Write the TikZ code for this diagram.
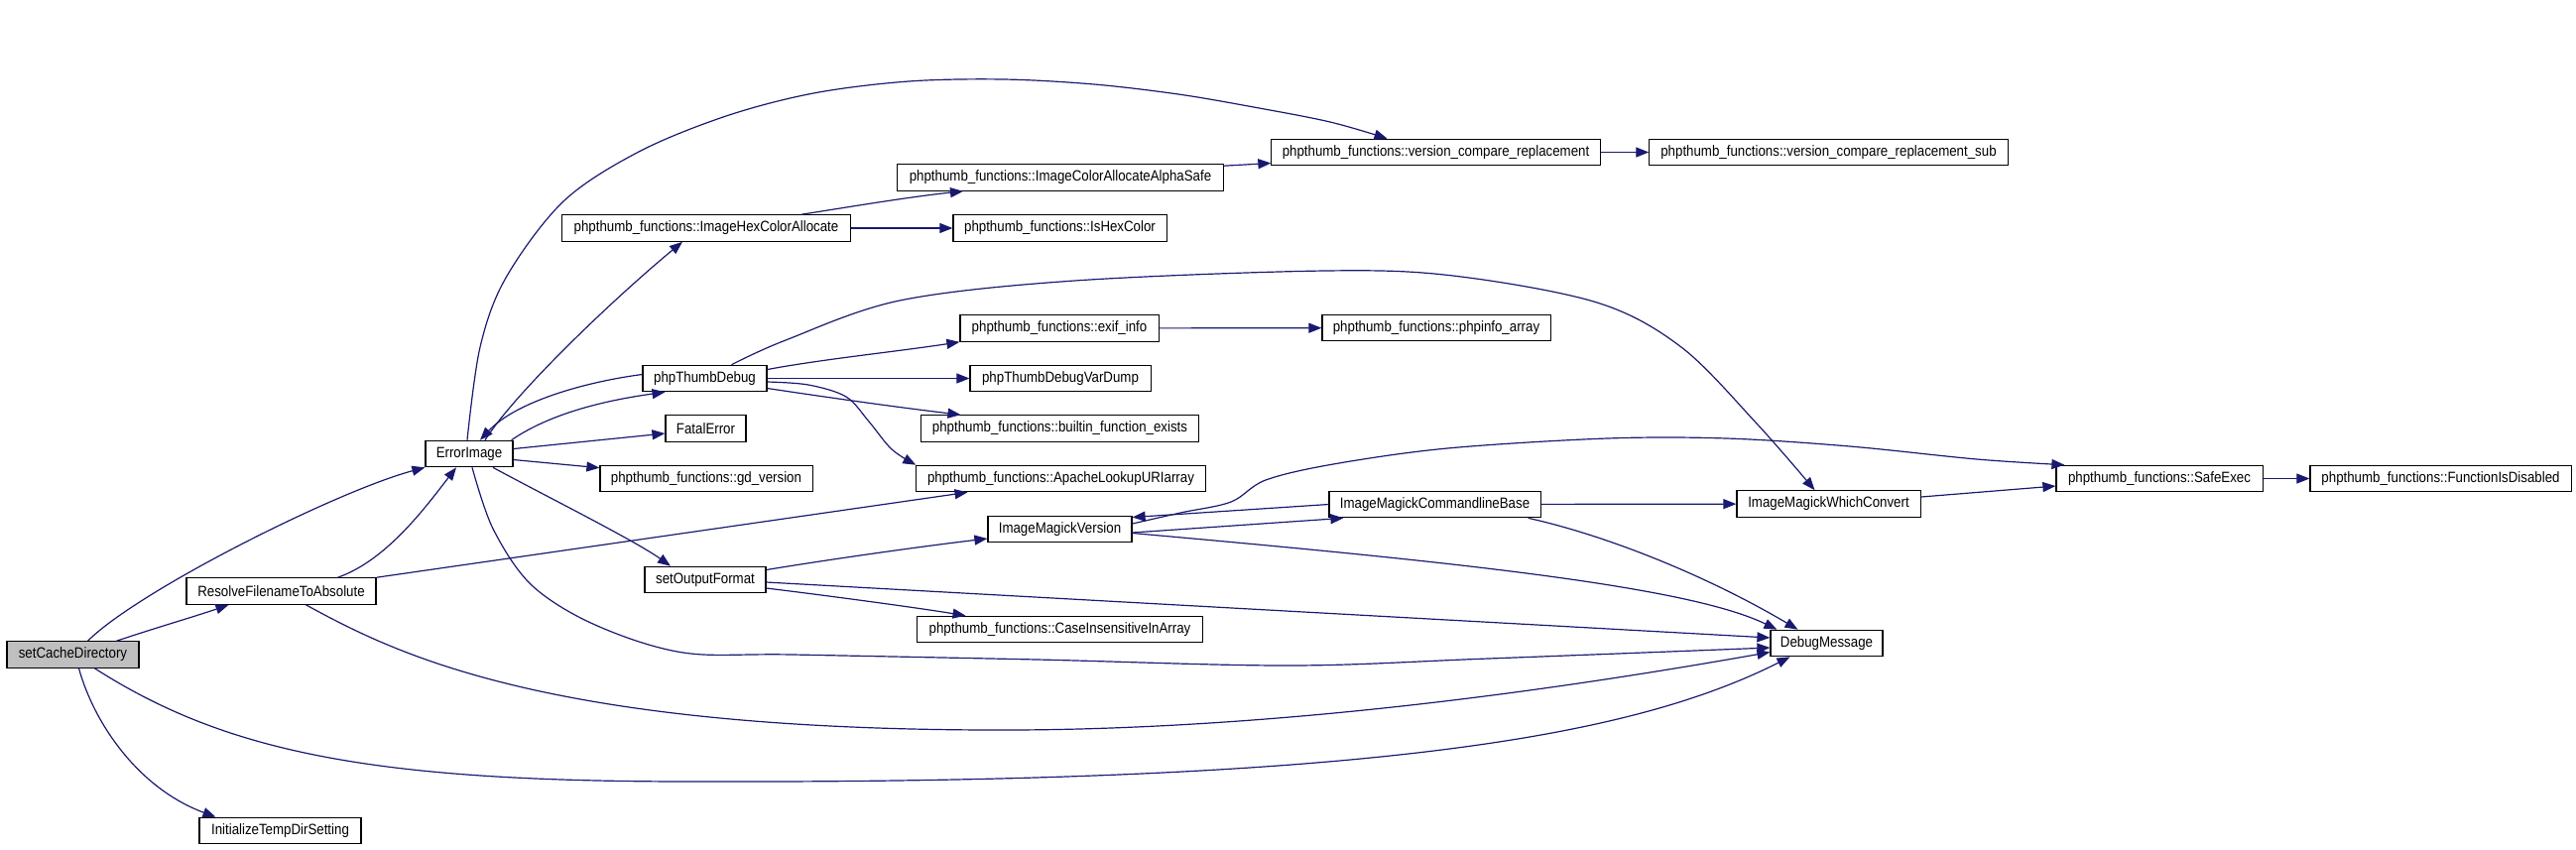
\documentclass[tikz,border=0pt]{standalone}
\usepackage{fontspec}
\setmainfont{Liberation Sans}[FakeStretch=0.885]
\usetikzlibrary{arrows.meta,calc}
\definecolor{edgeblue}{HTML}{191970}
\definecolor{rootgray}{HTML}{BFBFBF}
\tikzset{
  box/.style={draw=black, line width=0.32pt, fill=white, inner sep=0pt,
    minimum height=0.265cm, font=\fontsize{4.27pt}{5pt}\selectfont, text=black},
  edge/.style={draw=edgeblue, line width=0.34pt,
    -{Triangle[length=0.13cm,width=0.1cm]}, fill=none},
}
\begin{document}
\begin{tikzpicture}[x=0.01cm,y=-0.01cm]
\useasboundingbox (0,0) rectangle (2597,856);
% nodes
\node[box, fill=rootgray, minimum width=1.33cm] (sCD) at (73.5,660) {setCacheDirectory};
\node[box, minimum width=1.91cm] (RFA) at (283.5,596) {ResolveFilenameToAbsolute};
\node[box, minimum width=1.63cm] (ITD) at (282.5,837.5) {InitializeTempDirSetting};
\node[box, minimum width=0.88cm] (EI) at (473,457.5) {ErrorImage};
\node[box, minimum width=2.90cm] (IHCA) at (712,230) {phpthumb\_functions::ImageHexColorAllocate};
\node[box, minimum width=2.15cm] (IHC) at (1068.5,230) {phpthumb\_functions::IsHexColor};
\node[box, minimum width=3.28cm] (ICAAS) at (1069,179) {phpthumb\_functions::ImageColorAllocateAlphaSafe};
\node[box, minimum width=3.31cm] (VCR) at (1447.5,153.5) {phpthumb\_functions::version\_compare\_replacement};
\node[box, minimum width=3.61cm] (VCRS) at (1843.5,153.5) {phpthumb\_functions::version\_compare\_replacement\_sub};
\node[box, minimum width=1.25cm] (PTD) at (710.5,381.5) {phpThumbDebug};
\node[box, minimum width=2.00cm] (EXIF) at (1068,331) {phpthumb\_functions::exif\_info};
\node[box, minimum width=2.30cm] (PIA) at (1448,330.5) {phpthumb\_functions::phpinfo\_array};
\node[box, minimum width=1.82cm] (PTDVD) at (1069,381.5) {phpThumbDebugVarDump};
\node[box, minimum width=0.81cm] (FE) at (711.5,432) {FatalError};
\node[box, minimum width=2.79cm] (BFE) at (1068.5,432) {phpthumb\_functions::builtin\_function\_exists};
\node[box, minimum width=2.14cm] (GD) at (712,482.5) {phpthumb\_functions::gd\_version};
\node[box, minimum width=2.91cm] (ALU) at (1069.5,482.5) {phpthumb\_functions::ApacheLookupURIarray};
\node[box, minimum width=1.45cm] (IMV) at (1068.5,533.5) {ImageMagickVersion};
\node[box, minimum width=1.22cm] (SOF) at (711,584.5) {setOutputFormat};
\node[box, minimum width=2.87cm] (CIIA) at (1068.5,634.5) {phpthumb\_functions::CaseInsensitiveInArray};
\node[box, minimum width=2.13cm] (IMCB) at (1446.5,508.5) {ImageMagickCommandlineBase};
\node[box, minimum width=1.85cm] (IMWC) at (1843.5,508) {ImageMagickWhichConvert};
\node[box, minimum width=1.13cm] (DM) at (1841.5,648.5) {DebugMessage};
\node[box, minimum width=2.08cm] (SE) at (2177,482.5) {phpthumb\_functions::SafeExec};
\node[box, minimum width=2.63cm] (FID) at (2460.5,482.5) {phpthumb\_functions::FunctionIsDisabled};
% helper coordinates
\coordinate (eiA) at ($(EI.north)+(-2,0)$);
\coordinate (vcrA) at ($(VCR.north)+(-49,0)$);
\coordinate (eiB) at ($(EI.south)+(3,0)$);
\coordinate (dmB) at ($(DM.west)+(0,4.5)$);
\coordinate (ptdC) at ($(PTD.east)+(0,3.5)$);
\coordinate (ptdD) at ($(PTD.north)+(27,0)$);
\coordinate (imwcD) at ($(IMWC.north)+(-14,0)$);
\coordinate (imvE) at ($(IMV.east)+(0,-5.5)$);
\coordinate (seE) at ($(SE.north west)+(9,0)$);
% edges from setCacheDirectory
\draw[edge] ($(sCD.north)+(15,0)$) .. controls (140,595) and (340,495) .. (EI.south west);
\draw[edge] ($(sCD.north)+(44,0)$) .. controls (160,632) and (195,622) .. ($(RFA.south)+(-53,0)$);
\draw[edge] ($(sCD.south)+(6,0)$) .. controls (95,730) and (140,795) .. ($(ITD.north)+(-65,0)$);
\draw[edge] ($(sCD.south)+(22,0)$) .. controls (230,760) and (380,788) .. (700,788)
  .. controls (1400,790) and (1650,740) .. ($(DM.south)+(-37,0)$);
% ResolveFilenameToAbsolute
\draw[edge] ($(RFA.north)+(57,0)$) .. controls (390,565) and (430,510) .. ($(EI.south)+(-13,0)$);
\draw[edge] (RFA.north east) -- ($(ALU.south)+(-94,0)$);
\draw[edge] ($(RFA.south)+(25,0)$) .. controls (400,660) and (550,735) .. (1000,736)
  .. controls (1300,737) and (1600,690) .. ($(DM.west)+(0,9)$);
% ErrorImage
\draw[edge] plot[smooth, tension=0.55] coordinates {(eiA) (484,350) (510,280) (568,203) (644,153) (732,117) (820,94) (916,82) (1012,80) (1103,85) (1188,95) (1264,108) (1341,123) (vcrA)};
\draw[edge] ($(EI.north)+(16,0)$) .. controls (520,395) and (620,300) .. ($(IHCA.south)+(-24,0)$);
\draw[edge] ($(EI.north east)+(-2,0)$) .. controls (550,420) and (600,405) .. ($(PTD.south)+(-40,0)$);
\draw[edge] ($(PTD.west)+(0,-4)$) .. controls (590,385) and (520,405) .. ($(EI.north)+(11,0)$);
\draw[edge] ($(EI.east)+(0,-5)$) -- ($(FE.west)+(0,5)$);
\draw[edge] ($(EI.east)+(0,6)$) -- ($(GD.north west)+(0,3)$);
\draw[edge] ($(EI.south)+(24,0)$) .. controls (550,500) and (640,545) .. ($(SOF.north)+(-35,0)$);
\draw[edge] plot[smooth, tension=0.55] coordinates {(eiB) (497,533) (536,590) (600,630) (689,658) (800,660) (1046,665) (1300,671) (1500,664) (dmB)};
% ImageHexColorAllocate etc.
\draw[edge] ($(IHCA.north)+(96,0)$) .. controls (860,208) and (920,198) .. ($(ICAAS.south)+(-98,0)$);
\draw[edge] (IHCA) -- (IHC);
\draw[edge] ($(ICAAS.north east)+(0,2)$) -- ($(VCR.west)+(0,11)$);
\draw[edge] (VCR) -- (VCRS);
% phpThumbDebug
\draw[edge] ($(PTD.east)+(0,-9)$) .. controls (830,362) and (900,355) .. (EXIF.south west);
\draw[edge] (PTD) -- (PTDVD);
\draw[edge] ($(PTD.east)+(0,10)$) .. controls (830,400) and (900,410) .. ($(BFE.north)+(-100,0)$);
\draw[edge] plot[smooth, tension=0.55] coordinates {(ptdC) (815,388) (853,400) (876,425) (899,453) (ALU.north west)};
\draw[edge] plot[smooth, tension=0.55] coordinates {(ptdD) (792,343) (907,303) (1083,283) (1335,273) (1465,278) (1610,305) (1695,350) (1771,427) (imwcD)};
\draw[edge] (EXIF) -- (PIA);
% setOutputFormat
\draw[edge] ($(SOF.east)+(0,-10)$) .. controls (830,565) and (920,552) .. ($(IMV.west)+(0,9.5)$);
\draw[edge] ($(SOF.east)+(0,8.5)$) .. controls (830,600) and (920,612) .. ($(CIIA.north)+(-95,0)$);
\draw[edge] ($(SOF.east)+(0,2.5)$) -- ($(DM.west)+(0,-5.5)$);
% ImageMagick
\draw[edge] ($(IMV.east)+(0,3.5)$) -- ($(IMCB.south west)+(15,0)$);
\draw[edge] (IMCB.west) -- ($(IMV.east)+(0,-12)$);
\draw[edge] plot[smooth, tension=0.55] coordinates {(imvE) (1190,517) (1241,506) (1276,484) (1344,468) (1459,452) (1620,442) (1741,442) (1865,450) (1993,463) (seE)};
\draw[edge] ($(IMV.east)+(0,4)$) .. controls (1450,565) and (1700,590) .. ($(DM.north west)+(7,0)$);
\draw[edge] (IMCB) -- (IMWC);
\draw[edge] ($(IMCB.south east)+(-13,0)$) .. controls (1620,540) and (1720,580) .. ($(DM.north)+(-29,0)$);
\draw[edge] ($(IMWC.east)+(0,-7)$) -- ($(SE.west)+(0,7.5)$);
\draw[edge] (SE) -- (FID);
\end{tikzpicture}
\end{document}
